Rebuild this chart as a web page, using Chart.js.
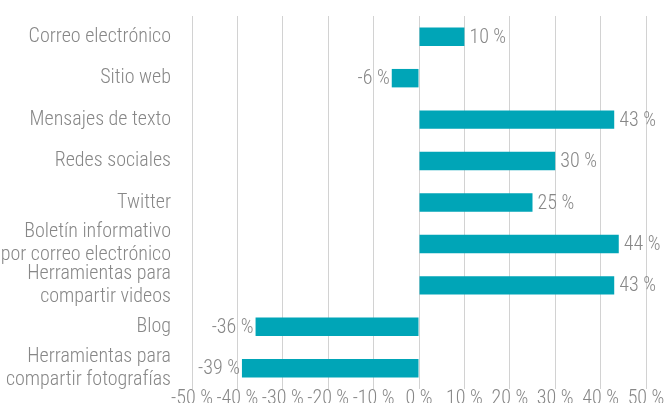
<!DOCTYPE html>
<html>
<head>
<meta charset="utf-8">
<script src="https://cdn.jsdelivr.net/npm/chart.js@4"></script>
<style>
  html, body { margin: 0; padding: 0; background: #fff; overflow: hidden; }
  #wrap { width: 669px; height: 403px; }
</style>
</head>
<body>
<div id="wrap"><canvas id="chart" width="669" height="403"></canvas></div>
<script>
var categories = [
    'Correo electrónico',
    'Sitio web',
    'Mensajes de texto',
    'Redes sociales',
    'Twitter',
    ['Boletín informativo', 'por correo electrónico'],
    ['Herramientas para', 'compartir videos'],
    'Blog',
    ['Herramientas para', 'compartir fotografías']
];
var values = [10, -6, 43, 30, 25, 44, 43, -36, -39];
var tickMin = -50;
var tickMax = 50;
var tickStep = 10;

var FONT = "'Roboto Condensed', 'Liberation Sans Narrow', 'DejaVu Sans Condensed', sans-serif";
var GREY = '#878787';
var TEAL = '#00a5b7';

function pct(v) { return v + ' %'; }

// writes "NN %" next to the end of each bar
var valueLabels = {
    id: 'valueLabels',
    afterDatasetsDraw: function(chart)
    {
        var ctx = chart.ctx;
        var meta = chart.getDatasetMeta(0);
        ctx.save();
        ctx.font = '300 20px ' + FONT;
        ctx.fillStyle = GREY;
        ctx.textBaseline = 'middle';
        meta.data.forEach(function(bar, i)
        {
            var v = values[i];
            if (v >= 0) {
                ctx.textAlign = 'left';
                ctx.fillText(pct(v), bar.x + 5, bar.y + 1);
            } else {
                ctx.textAlign = 'right';
                ctx.fillText(pct(v), bar.x - 2, bar.y + 1);
            }
        });
        ctx.restore();
    }
};

// x tick labels sit right under the plot, partly running off the bottom edge
var xTickLabels = {
    id: 'xTickLabels',
    afterDraw: function(chart)
    {
        var ctx = chart.ctx;
        var scale = chart.scales.x;
        ctx.save();
        ctx.font = '300 20px ' + FONT;
        ctx.fillStyle = GREY;
        ctx.textAlign = 'center';
        ctx.textBaseline = 'alphabetic';
        scale.ticks.forEach(function(t, i)
        {
            ctx.fillText(pct(t.value), scale.getPixelForTick(i), chart.chartArea.bottom + 15);
        });
        ctx.restore();
    }
};

new Chart(document.getElementById('chart'), {
    type: 'bar',
    data: {
        labels: categories,
        datasets: [{
            data: values,
            backgroundColor: TEAL,
            borderWidth: 0,
            barPercentage: 0.445,
            categoryPercentage: 1
        }]
    },
    options: {
        indexAxis: 'y',
        responsive: false,
        animation: false,
        devicePixelRatio: 1,
        layout: { padding: { top: 16, right: 23, bottom: 0, left: 0 } },
        plugins: {
            legend: { display: false },
            tooltip: { enabled: false }
        },
        scales: {
            x: {
                min: tickMin,
                max: tickMax,
                grid: { color: '#d2d2d2', lineWidth: 1, drawTicks: false },
                border: { display: false },
                afterFit: function(scale) {
                    scale.height = 14;
                    scale.paddingLeft = 0;
                    scale.paddingRight = 0;
                },
                ticks: {
                    stepSize: tickStep,
                    display: false
                }
            },
            y: {
                grid: { display: false },
                border: { display: false },
                afterFit: function(scale) {
                    scale.width = 192;
                    scale.paddingTop = 0;
                    scale.paddingBottom = 0;
                },
                ticks: {
                    padding: 13,
                    autoSkip: false,
                    color: GREY,
                    font: { family: FONT, size: 20, weight: '300', lineHeight: 1.15 }
                }
            }
        }
    },
    plugins: [valueLabels, xTickLabels]
});
</script>
</body>
</html>
